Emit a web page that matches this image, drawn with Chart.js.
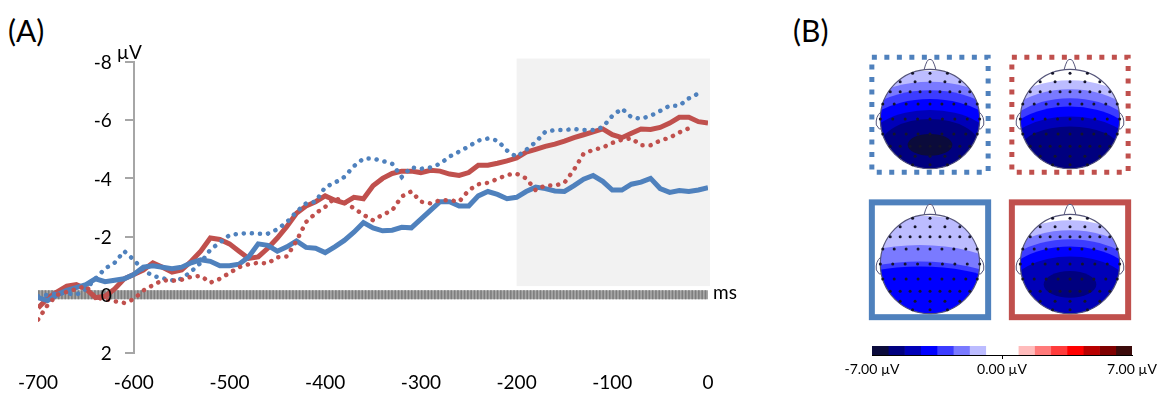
<!DOCTYPE html>
<html>
<head>
<meta charset="utf-8">
<script src="https://cdn.jsdelivr.net/npm/chart.js@4.4.0/dist/chart.umd.min.js"></script>
<style>
  html, body { margin: 0; padding: 0; background: #fff; }
  #wrap { position: relative; width: 1167px; height: 395px; overflow: hidden; font-family: Lato, sans-serif; }
  canvas { position: absolute; }
  .tag { position: absolute; font-size: 30px; line-height: 34px; color: #000; }
</style>
</head>
<body>
<div id="wrap">
  <div class="tag" style="left:8px;top:13px">(A)</div>
  <div class="tag" style="left:793px;top:13px">(B)</div>
  <canvas id="erp" width="760" height="395" style="left:0;top:0"></canvas>
  <canvas id="mapTL" width="150" height="150" style="left:855px;top:44px"></canvas>
  <canvas id="mapTR" width="150" height="150" style="left:995px;top:44px"></canvas>
  <canvas id="mapBL" width="150" height="150" style="left:855px;top:189px"></canvas>
  <canvas id="mapBR" width="150" height="150" style="left:995px;top:189px"></canvas>
  <canvas id="cbar" width="337" height="50" style="left:830px;top:336px"></canvas>
</div>
<script>
// ---- panel A data (ms, µV) ----
const times = [-700,-690,-680,-670,-660,-650,-640,-630,-620,-610,
  -600,-590,-580,-570,-560,-550,-540,-530,-520,-510,
  -500,-490,-480,-470,-460,-450,-440,-430,-420,-410,
  -400,-390,-380,-370,-360,-350,-340,-330,-320,-310,
  -300,-290,-280,-270,-260,-250,-240,-230,-220,-210,
  -200,-190,-180,-170,-160,-150,-140,-130,-120,-110,
  -100,-90,-80,-70,-60,-50,-40,-30,-20,-10,0];

const blueSolid = [0.1,0.2,0.0,-0.15,-0.25,-0.35,-0.55,-0.45,-0.5,-0.55,
  -0.7,-0.95,-1.0,-0.95,-0.9,-0.95,-1.1,-1.2,-1.15,-1.0,
  -1.0,-1.05,-1.3,-1.75,-1.7,-1.5,-1.65,-1.85,-1.63,-1.6,
  -1.45,-1.65,-1.87,-2.15,-2.48,-2.3,-2.2,-2.22,-2.32,-2.3,
  -2.6,-2.9,-3.2,-3.2,-3.05,-3.05,-3.4,-3.55,-3.45,-3.3,
  -3.35,-3.55,-3.7,-3.65,-3.57,-3.55,-3.75,-3.97,-4.1,-3.9,
  -3.6,-3.6,-3.8,-3.87,-4.0,-3.65,-3.52,-3.58,-3.55,-3.6,-3.68];

const redSolid = [0.45,0.12,-0.1,-0.3,-0.35,-0.2,0.1,0.05,-0.2,-0.55,
  -0.7,-0.85,-1.1,-0.95,-0.78,-0.85,-1.15,-1.5,-1.95,-1.9,
  -1.75,-1.5,-1.25,-1.3,-1.6,-1.95,-2.35,-2.8,-3.05,-3.2,
  -3.4,-3.25,-3.15,-3.35,-3.3,-3.75,-4.0,-4.17,-4.25,-4.25,
  -4.2,-4.28,-4.25,-4.15,-4.1,-4.2,-4.45,-4.45,-4.52,-4.6,
  -4.7,-4.9,-5.0,-5.1,-5.18,-5.28,-5.4,-5.5,-5.6,-5.7,
  -5.5,-5.4,-5.55,-5.7,-5.68,-5.75,-5.9,-6.1,-6.1,-5.95,-5.9];

const blueDotted = [0.05,0.0,-0.05,-0.05,0.0,-0.2,-0.55,-0.9,-1.1,-1.5,
  -1.2,-0.85,-0.65,-0.57,-0.5,-0.55,-0.8,-1.1,-1.55,-1.8,
  -2.05,-2.1,-2.12,-2.1,-2.1,-2.25,-2.5,-2.85,-3.14,-3.2,
  -3.7,-3.85,-4.05,-4.42,-4.68,-4.68,-4.6,-4.5,-4.05,-4.38,
  -4.33,-4.38,-4.5,-4.75,-4.92,-5.1,-5.3,-5.37,-5.3,-4.96,
  -4.74,-4.98,-5.25,-5.6,-5.66,-5.66,-5.7,-5.66,-5.66,-5.76,
  -6.15,-6.4,-6.1,-6.05,-6.15,-6.32,-6.5,-6.5,-6.75,-6.92,null];

const redDotted = [0.85,0.35,0.0,-0.1,-0.2,-0.3,0.1,0.15,0.22,0.28,
  0.15,-0.15,-0.33,-0.5,-0.48,-0.52,-0.62,-0.65,-0.42,-0.55,
  -0.75,-0.95,-1.05,-1.1,-1.08,-1.29,-1.32,-1.85,-2.5,-2.8,
  -3.02,-3.33,-3.18,-2.97,-2.75,-2.56,-2.75,-2.9,-3.38,-3.55,
  -3.2,-3.14,-3.25,-3.25,-3.2,-3.59,-3.8,-3.85,-3.98,-4.12,
  -4.16,-4.0,-3.59,-3.76,-3.75,-3.85,-4.3,-4.85,-4.98,-5.06,
  -5.22,-5.33,-5.38,-5.14,-5.14,-5.3,-5.4,-5.58,-5.72,null,null];

const xTicks = [-700,-600,-500,-400,-300,-200,-100,0];
const yTicks = [-8,-6,-4,-2,0,2];
const zeroSpan = [-700, 0];
const shadeWindow = [-200, 0];
const shadeLevels = [-8.12, -0.3];

// ---- panel B data ----
const levelColors = ['#0b0b3b','#00007f','#0000b8','#0000ff','#3c3cff','#7a7aff','#bcbcff','#ffffff',
  '#ffffff','#ffbcbc','#ff7a7a','#ff3c3c','#ff0000','#b80000','#7f0000','#3b0b0b'];
const colorEdges = [-7,-6.125,-5.25,-4.375,-3.5,-2.625,-1.75,-0.875,0,0.875,1.75,2.625,3.5,4.375,5.25,6.125,7];
const cbarTicks = [-7, 0, 7];

// contour patches per map: [level, cx, cy, rx, ry] in head radii
const mapBlueDotted = [[6,0,0.55,2.0,1.52],[5,0,0.55,1.9,1.3],[4,0,0.55,1.7,1.13],[3,0,0.55,1.55,0.95],
  [2,0,0.55,1.3,0.73],[1,0,0.55,1.0,0.55],[0,0,0.52,0.45,0.22]];
const mapRedDotted = [[6,0,0.6,1.8,1.38],[5,0,0.6,1.65,1.2],[4,0,0.6,1.5,1.02],[3,0,0.6,1.4,0.85],
  [2,0,0.6,1.25,0.65],[1,0,0.6,1.0,0.45]];
const mapBlueSolid = [[6,-0.2,1.2,3.0,2.17],[5,-0.2,1.2,2.6,1.58],[4,-0.2,1.2,2.5,1.25],[3,-0.2,1.2,2.4,1.15]];
const mapRedSolid = [[6,0,0.5,1.8,1.38],[5,0,0.5,1.7,1.18],[4,0,0.5,1.55,1.0],[3,0,0.5,1.4,0.85],
  [2,0,0.5,1.2,0.65],[1,0,0.41,0.53,0.27]];

const electrodeRows = [
  [-0.92, [-0.35,0,0.35]],
  [-0.75, [-0.6,-0.3,0,0.3,0.6]],
  [-0.55, [-0.8,-0.6,-0.4,-0.2,0,0.2,0.4,0.6,0.8]],
  [-0.3,  [-0.95,-0.72,-0.48,-0.24,0,0.24,0.48,0.72,0.95]],
  [0,     [-1.0,-0.75,-0.5,-0.25,0,0.25,0.5,0.75,1.0]],
  [0.3,   [-0.95,-0.72,-0.48,-0.24,0,0.24,0.48,0.72,0.95]],
  [0.55,  [-0.8,-0.6,-0.4,-0.2,0,0.2,0.4,0.6,0.8]],
  [0.75,  [-0.6,-0.3,0,0.3,0.6]],
  [0.92,  [-0.35,0,0.35]]
];

const BLUE = '#4F81BD', RED = '#C0504D';
Chart.defaults.font.family = 'Lato';
Chart.defaults.color = '#000';

const pts = arr => times.map((t, i) => ({x: t, y: arr[i]}));

// shaded window, y labels (axis sits at -600 ms) and unit labels
const erpDecor = {
  id: 'erpDecor',
  beforeDatasetsDraw(chart) {
    const {ctx, scales: {x, y}} = chart;
    const x0 = x.getPixelForValue(shadeWindow[0]), x1 = x.getPixelForValue(shadeWindow[1]);
    const y0 = y.getPixelForValue(shadeLevels[0]), y1 = y.getPixelForValue(shadeLevels[1]);
    ctx.save();
    ctx.fillStyle = '#f2f2f2';
    ctx.fillRect(x0, y0, x1 - x0 + 2, y1 - y0);
    ctx.restore();
  },
  afterDraw(chart) {
    const {ctx, scales: {x, y}} = chart;
    const ax = x.getPixelForValue(-600);
    ctx.save();
    ctx.font = '19px Lato';
    ctx.fillStyle = '#000';
    ctx.textBaseline = 'middle';
    ctx.textAlign = 'right';
    y.ticks.forEach(t => ctx.fillText(String(t.value), ax - 22, y.getPixelForValue(t.value) + 1));
    ctx.textAlign = 'left';
    ctx.fillText('µV', ax - 17, y.getPixelForValue(-8) - 9);
    ctx.fillText('ms', x.getPixelForValue(0) + 5, y.getPixelForValue(0) - 2);
    ctx.restore();
  }
};

new Chart(document.getElementById('erp'), {
  type: 'scatter',
  data: {
    datasets: [
      { data: zeroSpan.map(t => ({x: t, y: 0})), showLine: true, borderColor: '#a8a8a8', borderWidth: 9,
        pointRadius: 0, order: 10 },
      { data: zeroSpan.map(t => ({x: t, y: 0})), showLine: true, borderColor: '#7d7d7d', borderWidth: 9,
        borderDash: [1.6, 1.7], pointRadius: 0, order: 9 },
      { label: 'red solid', data: pts(redSolid), showLine: true, borderColor: RED, borderWidth: 5,
        pointRadius: 0, order: 4 },
      { label: 'blue solid', data: pts(blueSolid), showLine: true, borderColor: BLUE, borderWidth: 5,
        pointRadius: 0, order: 3 },
      { label: 'blue dotted', data: pts(blueDotted), showLine: true, borderColor: BLUE, borderWidth: 4.5,
        borderDash: [0.1, 8], borderCapStyle: 'round', pointRadius: 0, order: 2 },
      { label: 'red dotted', data: pts(redDotted), showLine: true, borderColor: RED, borderWidth: 4.5,
        borderDash: [0.1, 8], borderCapStyle: 'round', pointRadius: 0, order: 1 }
    ]
  },
  options: {
    responsive: false, animation: false,
    layout: { padding: { left: 33, right: 52, top: 62, bottom: 0 } },
    plugins: { legend: { display: false }, tooltip: { enabled: false } },
    scales: {
      x: {
        type: 'linear', position: 'bottom', min: -700, max: 0,
        afterBuildTicks: s => { s.ticks = xTicks.map(v => ({value: v})); },
        afterFit: s => { s.height = 42; },
        grid: { display: false, drawTicks: false },
        border: { display: false },
        ticks: { font: { size: 19 }, padding: 18, maxRotation: 0, autoSkip: false }
      },
      y: {
        type: 'linear', reverse: true, min: -8, max: 2, position: { x: -600 },
        afterBuildTicks: s => { s.ticks = yTicks.map(v => ({value: v})); },
        grid: { drawOnChartArea: false, drawTicks: true, tickLength: 8, color: '#a6a6a6', lineWidth: 2 },
        border: { color: '#a6a6a6', width: 2 },
        ticks: { display: false }
      }
    }
  },
  plugins: [erpDecor]
});

// ---- head maps ----
const boxExtent = { x: 1.17, top: -1.24, bottom: 1.07 };

function headPlugin(contours, boxColor, dotted) {
  return {
    id: 'headMap',
    beforeDatasetsDraw(chart) {
      const {ctx, scales: {x, y}} = chart;
      const px = v => x.getPixelForValue(v), py = v => y.getPixelForValue(v);
      const u = px(1) - px(0);
      ctx.save();
      ctx.strokeStyle = boxColor;
      ctx.lineWidth = dotted ? 5 : 6;
      ctx.setLineDash(dotted ? [5, 7.5] : []);
      ctx.strokeRect(px(-boxExtent.x), py(boxExtent.top),
        px(boxExtent.x) - px(-boxExtent.x), py(boxExtent.bottom) - py(boxExtent.top));
      ctx.restore();

      // nose and ears
      ctx.save();
      ctx.strokeStyle = '#55557a';
      ctx.lineWidth = 1;
      ctx.fillStyle = '#fff';
      ctx.beginPath();
      ctx.moveTo(px(-0.12), py(-0.99));
      ctx.quadraticCurveTo(px(-0.06), py(-1.22), px(0), py(-1.2));
      ctx.quadraticCurveTo(px(0.06), py(-1.22), px(0.12), py(-0.99));
      ctx.fill(); ctx.stroke();
      [-1, 1].forEach(s => {
        ctx.beginPath();
        ctx.moveTo(px(s * 0.99), py(-0.14));
        ctx.quadraticCurveTo(px(s * 1.1), py(-0.05), px(s * 1.08), py(0.12));
        ctx.lineTo(px(s * 1.02), py(0.2));
        ctx.lineTo(px(s * 0.98), py(0.2));
        ctx.fill(); ctx.stroke();
      });
      ctx.restore();

      // scalp map
      ctx.save();
      ctx.beginPath();
      ctx.arc(px(0), py(0), u, 0, Math.PI * 2);
      ctx.clip();
      ctx.fillStyle = levelColors[7];
      ctx.fillRect(px(-1), py(-1), 2 * u, 2 * u);
      contours.forEach(([lvl, cx, cy, rx, ry]) => {
        ctx.beginPath();
        ctx.ellipse(px(cx), py(cy), rx * u, ry * u, 0, 0, Math.PI * 2);
        ctx.fillStyle = levelColors[lvl];
        ctx.fill();
      });
      ctx.restore();

      ctx.save();
      ctx.strokeStyle = '#55557a';
      ctx.lineWidth = 1.2;
      ctx.beginPath();
      ctx.arc(px(0), py(0), u, 0, Math.PI * 2);
      ctx.stroke();
      ctx.restore();
    }
  };
}

function makeHead(id, contours, boxColor, dotted) {
  const electrodes = [];
  electrodeRows.forEach(([ey, xs]) => xs.forEach(ex => electrodes.push({x: ex, y: ey})));
  return new Chart(document.getElementById(id), {
    type: 'scatter',
    data: { datasets: [{ data: electrodes, pointRadius: 1.5, pointBackgroundColor: '#15152a',
      pointBorderWidth: 0 }] },
    options: {
      responsive: false, animation: false,
      layout: { padding: 0 },
      plugins: { legend: { display: false }, tooltip: { enabled: false } },
      scales: {
        x: { display: false, min: -1.4286, max: 1.4286 },
        y: { display: false, min: -1.4286, max: 1.4286, reverse: true }
      }
    },
    plugins: [headPlugin(contours, boxColor, dotted)]
  });
}

makeHead('mapTL', mapBlueDotted, BLUE, true);
makeHead('mapTR', mapRedDotted, RED, true);
makeHead('mapBL', mapBlueSolid, BLUE, false);
makeHead('mapBR', mapRedSolid, RED, false);

// ---- colour scale ----
new Chart(document.getElementById('cbar'), {
  type: 'bar',
  data: {
    labels: [''],
    datasets: levelColors.map((c, i) => ({
      data: [[colorEdges[i], colorEdges[i + 1]]], backgroundColor: c, borderWidth: 0,
      grouped: false, barPercentage: 1, categoryPercentage: 1
    }))
  },
  options: {
    indexAxis: 'y', responsive: false, animation: false,
    layout: { padding: { left: 42, right: 35, top: 10, bottom: 0 } },
    plugins: { legend: { display: false }, tooltip: { enabled: false } },
    scales: {
      y: { display: false },
      x: {
        type: 'linear', min: -7, max: 7,
        afterBuildTicks: s => { s.ticks = cbarTicks.map(v => ({value: v})); },
        afterFit: s => { s.height = 31; },
        grid: { drawOnChartArea: false, tickLength: 4,
          color: c => (c.tick && c.tick.value === 0) ? '#000' : 'rgba(0,0,0,0)' },
        border: { color: '#000', width: 1 },
        ticks: { callback: v => v.toFixed(2) + ' µV', font: { size: 14 }, padding: 2, maxRotation: 0 }
      }
    }
  }
});
</script>
</body>
</html>
